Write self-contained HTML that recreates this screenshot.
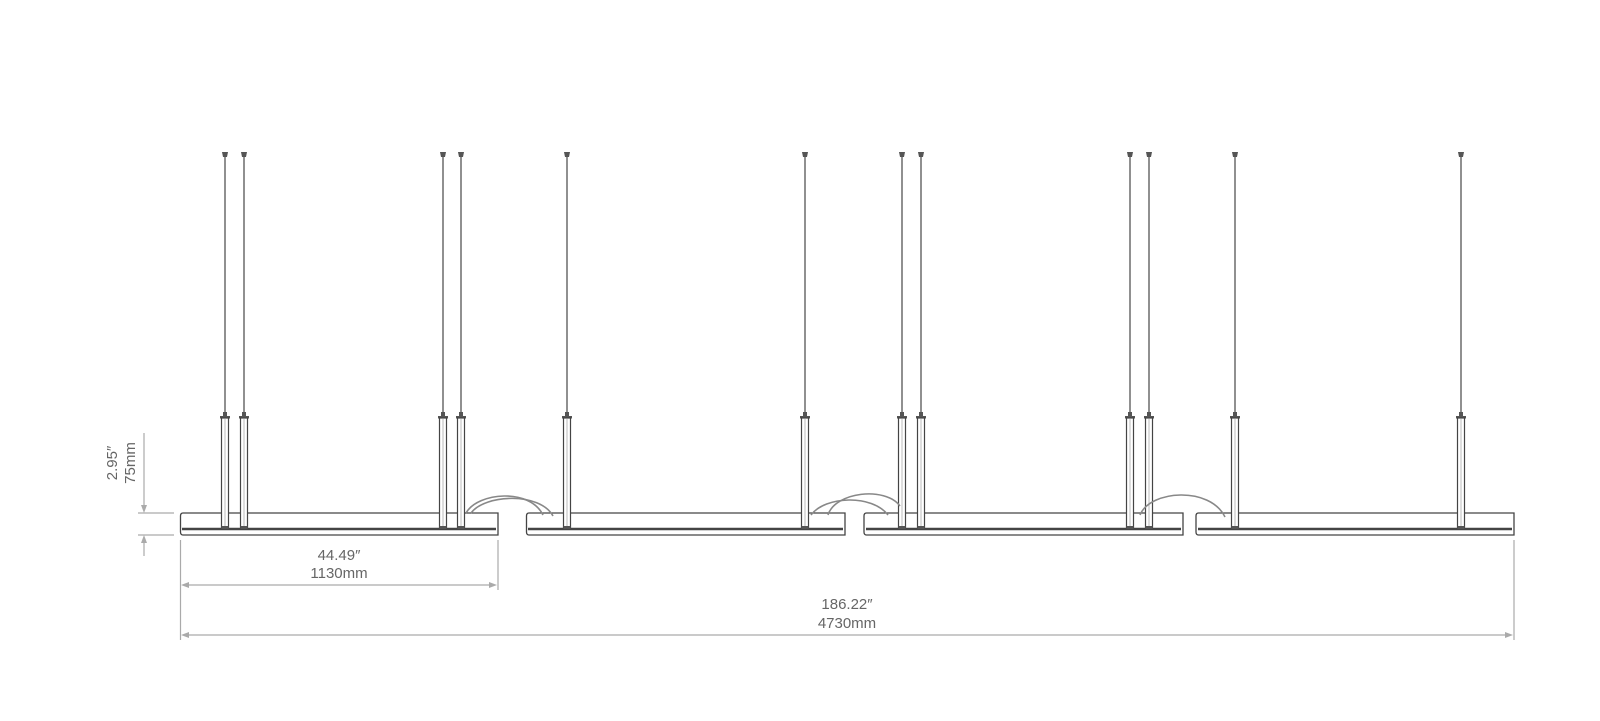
<!DOCTYPE html>
<html><head><meta charset="utf-8"><style>
html,body{margin:0;padding:0;background:#fff;}
svg{display:block;}
text{font-family:"Liberation Sans",sans-serif;fill:#666;font-size:15px;}
</style></head><body>
<svg width="1600" height="721" viewBox="0 0 1600 721" xmlns="http://www.w3.org/2000/svg">
<defs>
<g id="rod">
  <path d="M-3,152 h6 l-1,5 h-4 z" fill="#555"/>
  <line x1="0" y1="156" x2="0" y2="415" stroke="#555" stroke-width="1.3"/>
  <rect x="-2" y="412" width="4" height="4" fill="#555"/>
  <rect x="-5" y="416" width="10" height="2.5" fill="#555"/>
  <rect x="-3.5" y="418" width="7" height="111" fill="#fff" stroke="#444" stroke-width="1.2"/>
  <line x1="0" y1="419" x2="0" y2="528" stroke="#bbb" stroke-width="1"/>
  <rect x="-3.5" y="526" width="7" height="3" fill="#555"/>
</g>
</defs>
<!-- bars -->
<g fill="none" stroke="#444" stroke-width="1.3">
  <path d="M183,513 H498 V535 H183 Q180.5,535 180.5,532 V516 Q180.5,513 183,513 Z"/>
  <line x1="182" y1="529" x2="496" y2="529" stroke-width="2.4"/>
  <path d="M529,513 H845 V535 H529 Q526.5,535 526.5,532 V516 Q526.5,513 529,513 Z"/>
  <line x1="528" y1="529" x2="843" y2="529" stroke-width="2.4"/>
  <path d="M866.5,513 H1183 V535 H866.5 Q864,535 864,532 V516 Q864,513 866.5,513 Z"/>
  <line x1="866" y1="529" x2="1181" y2="529" stroke-width="2.4"/>
  <path d="M1198.5,513 H1514 V535 H1198.5 Q1196,535 1196,532 V516 Q1196,513 1198.5,513 Z"/>
  <line x1="1198" y1="529" x2="1512" y2="529" stroke-width="2.4"/>
</g>
<!-- rods -->
<use href="#rod" x="225"/><use href="#rod" x="244"/>
<use href="#rod" x="443"/><use href="#rod" x="461"/>
<use href="#rod" x="567"/><use href="#rod" x="805"/>
<use href="#rod" x="902"/><use href="#rod" x="921"/>
<use href="#rod" x="1130"/><use href="#rod" x="1149"/>
<use href="#rod" x="1235"/><use href="#rod" x="1461"/>
<!-- cables -->
<g fill="none" stroke="#888" stroke-width="1.6">
  <path d="M466,513 C478,492 530,488 543,515"/>
  <path d="M471,513 C485,494 540,492 553,516"/>
  <path d="M811,515 C825,496 872,494 888,515"/>
  <path d="M828,515 C835,492 885,486 900,506"/>
  <path d="M1140,515 C1150,490 1210,486 1225,517"/>
</g>
<!-- dimensions -->
<g stroke="#aaa" stroke-width="1.2" fill="none">
  <line x1="144" y1="433" x2="144" y2="508"/>
  <line x1="144" y1="540" x2="144" y2="556"/>
  <line x1="138" y1="513" x2="174" y2="513"/>
  <line x1="138" y1="535" x2="174" y2="535"/>
  <line x1="180.5" y1="540" x2="180.5" y2="640"/>
  <line x1="498" y1="540" x2="498" y2="590"/>
  <line x1="1514" y1="540" x2="1514" y2="640"/>
  <line x1="186" y1="585" x2="492" y2="585"/>
  <line x1="186" y1="635" x2="1508" y2="635"/>
</g>
<g fill="#aaa">
  <path d="M141,505 L147,505 L144,513 Z"/>
  <path d="M141,543 L147,543 L144,535 Z"/>
  <path d="M181,585 L189,582 L189,588 Z"/>
  <path d="M497,585 L489,582 L489,588 Z"/>
  <path d="M181,635 L189,632 L189,638 Z"/>
  <path d="M1513,635 L1505,632 L1505,638 Z"/>
</g>
<text transform="translate(117,463) rotate(-90)" text-anchor="middle">2.95″</text>
<text transform="translate(135,463) rotate(-90)" text-anchor="middle">75mm</text>
<text x="339" y="560" text-anchor="middle">44.49″</text>
<text x="339" y="578" text-anchor="middle">1130mm</text>
<text x="847" y="609" text-anchor="middle">186.22″</text>
<text x="847" y="628" text-anchor="middle">4730mm</text>
</svg>
</body></html>
